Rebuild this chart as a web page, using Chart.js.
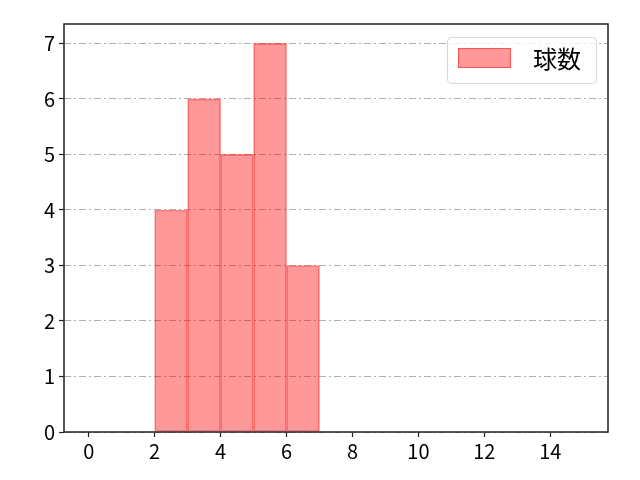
<!DOCTYPE html>
<html>
<head>
<meta charset="utf-8">
<script src="https://cdn.jsdelivr.net/npm/chart.js@4/dist/chart.umd.min.js"></script>
<style>
  html, body { margin: 0; padding: 0; background: #fff; }
  #wrap { width: 640px; height: 480px; }
</style>
</head>
<body>
<div id="wrap"><canvas id="chart1" width="640" height="480"></canvas></div>
<script>
const binStarts = [2, 3, 4, 5, 6];
const counts = [4, 6, 5, 7, 3];
const xTicks = [0, 2, 4, 6, 8, 10, 12, 14];
const yTicks = [0, 1, 2, 3, 4, 5, 6, 7];
const seriesLabel = "球数";

const font = { family: "'Noto Sans CJK JP', 'DejaVu Sans', sans-serif", size: 20 };

const frame = {
    id: "frame",
    afterDraw(chart) {
        const { ctx, chartArea: a } = chart;
        ctx.save();
        ctx.strokeStyle = "#222";
        ctx.lineWidth = 1.5;
        ctx.strokeRect(a.left, a.top, a.right - a.left, a.bottom - a.top);

        // legend box, top right
        const ds = chart.data.datasets[0];
        const w = 149, h = 46;
        const x = a.right - 161, y = a.top + 13;
        ctx.fillStyle = "rgba(255,255,255,0.8)";
        ctx.strokeStyle = "#d6d6d6";
        ctx.lineWidth = 1;
        ctx.beginPath();
        ctx.roundRect(x + 0.5, y + 0.5, w, h, 4);
        ctx.fill();
        ctx.stroke();
        ctx.fillStyle = ds.backgroundColor;
        ctx.strokeStyle = ds.borderColor;
        ctx.fillRect(x + 11, y + 11, 53, 20);
        ctx.strokeRect(x + 11.5, y + 11.5, 52, 19);
        ctx.fillStyle = "#000";
        ctx.font = "24px " + font.family;
        ctx.textBaseline = "middle";
        ctx.fillText(ds.label, x + 86, y + 22);
        ctx.restore();
    },
};

new Chart(document.getElementById("chart1"), {
    type: "bar",
    data: {
        datasets: [
            {
                label: seriesLabel,
                data: binStarts.map((b, i) => ({ x: b + 0.5, y: counts[i] })),
                backgroundColor: "rgba(255, 0, 0, 0.4)",
                borderColor: "rgba(255, 0, 0, 0.45)",
                borderWidth: 1,
                borderSkipped: false,
                barPercentage: 1,
                categoryPercentage: 1,
            },
        ],
    },
    options: {
        responsive: false,
        animation: false,
        layout: { padding: { left: 0, right: 32, top: 24, bottom: 0 } },
        plugins: {
            legend: { display: false },
            tooltip: { enabled: false },
        },
        scales: {
            x: {
                type: "linear",
                offset: false,
                min: -0.75,
                max: 15.75,
                afterBuildTicks: (s) => { s.ticks = xTicks.map((v) => ({ value: v })); },
                afterFit: (s) => { s.height = 48; },
                grid: {
                    offset: false,
                    drawOnChartArea: false,
                    drawTicks: true,
                    tickLength: 5,
                    tickColor: "#222",
                    tickWidth: 1.2,
                },
                border: { display: false },
                ticks: { color: "#000", font, padding: 2, maxRotation: 0 },
            },
            y: {
                min: 0,
                max: 7.35,
                afterBuildTicks: (s) => { s.ticks = yTicks.map((v) => ({ value: v })); },
                afterFit: (s) => { s.width = 64; },
                grid: {
                    color: "#b0b0b0",
                    lineWidth: 1,
                    drawTicks: true,
                    tickLength: 5,
                    tickColor: "#222",
                    tickWidth: 1.2,
                    tickBorderDash: [],
                },
                border: { display: false, dash: [7, 3, 2, 3] },
                ticks: { color: "#000", font, padding: 4 },
            },
        },
    },
    plugins: [frame],
});
</script>
</body>
</html>
